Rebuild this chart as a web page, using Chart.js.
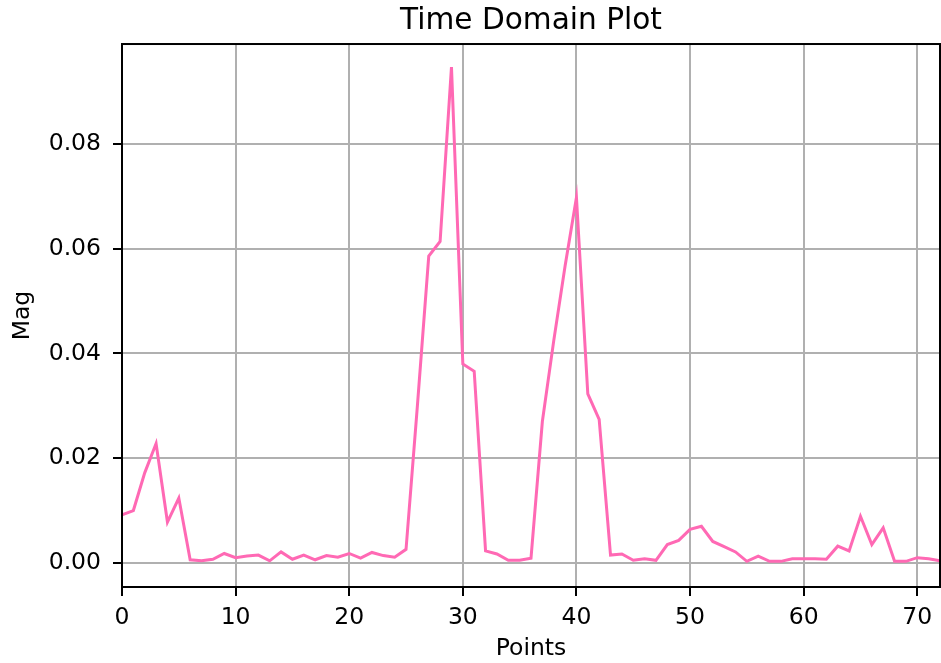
<!DOCTYPE html>
<html>
<head>
<meta charset="utf-8">
<title>Time Domain Plot</title>
<script src="https://cdn.jsdelivr.net/npm/chart.js@4"></script>
<style>
  body { margin: 0; background: #fff; }
  canvas { display: block; }
</style>
</head>
<body>
<canvas id="plot" width="941" height="663"></canvas>
<script>
const points = [
  0, 1, 2, 3, 4, 5, 6, 7, 8, 9, 10, 11, 12, 13, 14, 15, 16, 17, 18, 19,
  20, 21, 22, 23, 24, 25, 26, 27, 28, 29, 30, 31, 32, 33, 34, 35, 36, 37, 38, 39,
  40, 41, 42, 43, 44, 45, 46, 47, 48, 49, 50, 51, 52, 53, 54, 55, 56, 57, 58, 59,
  60, 61, 62, 63, 64, 65, 66, 67, 68, 69, 70, 71, 72,
];
const mag = [
  0.0092, 0.0100, 0.0172, 0.0228, 0.0078, 0.0124, 0.0006, 0.0004, 0.0007, 0.0018,
  0.0010, 0.0013, 0.0015, 0.0004, 0.0021, 0.0007, 0.0015, 0.0006, 0.0014, 0.0011,
  0.0018, 0.0009, 0.0020, 0.0014, 0.0011, 0.0026, 0.0300, 0.0586, 0.0614, 0.0947,
  0.0380, 0.0366, 0.0023, 0.0017, 0.0005, 0.0005, 0.0009, 0.0270, 0.0424, 0.0567,
  0.0698, 0.0323, 0.0274, 0.0015, 0.0017, 0.0005, 0.0008, 0.0005, 0.0035, 0.0043,
  0.0064, 0.0070, 0.0041, 0.0031, 0.0021, 0.0003, 0.0013, 0.0003, 0.0003, 0.0008,
  0.0008, 0.0008, 0.0007, 0.0032, 0.0023, 0.0089, 0.0035, 0.0067, 0.0003, 0.0003,
  0.0010, 0.0008, 0.0004,
];
const xTicks = [0, 10, 20, 30, 40, 50, 60, 70];
const yTicks = [0.0, 0.02, 0.04, 0.06, 0.08];

const FONT = "'DejaVu Sans', sans-serif";
const GRID = "#b0b0b0";

// top and right spines, like the matplotlib frame
const frame = {
  id: "frame",
  afterDatasetsDraw(chart) {
    const a = chart.chartArea;
    const ctx = chart.ctx;
    ctx.save();
    ctx.strokeStyle = "#000";
    ctx.lineWidth = 2;
    ctx.strokeRect(a.left, a.top, a.right - a.left, a.bottom - a.top);
    ctx.restore();
  },
};

const ctx = document.getElementById("plot");
new Chart(ctx, {
  type: "line",
  data: {
    datasets: [
      {
        data: mag.map((v, i) => ({ x: points[i], y: v })),
        borderColor: "#ff69b4",
        borderWidth: 3,
        pointRadius: 0,
        tension: 0,
        fill: false,
      },
    ],
  },
  options: {
    responsive: false,
    animation: false,
    devicePixelRatio: 1,
    layout: { padding: { left: 0, right: 1, top: 0, bottom: 0 } },
    plugins: {
      legend: { display: false },
      tooltip: { enabled: false },
      title: {
        display: true,
        text: "Time Domain Plot",
        fullSize: false,
        color: "#000",
        font: { family: FONT, size: 29.6, weight: "normal" },
        padding: { top: 4, bottom: 4.5 },
      },
    },
    scales: {
      x: {
        type: "linear",
        min: 0,
        max: 72,
        afterBuildTicks: (s) => { s.ticks = xTicks.map((v) => ({ value: v })); },
        afterFit: (s) => { s.height = 76; },
        border: { display: false },
        grid: { color: GRID, lineWidth: 2, tickColor: "#000", tickWidth: 2, tickLength: 9 },
        ticks: {
          color: "#000",
          font: { family: FONT, size: 23.5 },
          padding: 8,
          maxRotation: 0,
          callback: (v) => String(v),
        },
        title: {
          display: true,
          text: "Points",
          color: "#000",
          font: { family: FONT, size: 23.5 },
          padding: { top: 0, bottom: 0 },
        },
      },
      y: {
        type: "linear",
        min: -0.0046,
        max: 0.0991,
        afterBuildTicks: (s) => { s.ticks = yTicks.map((v) => ({ value: v })); },
        afterFit: (s) => { s.width = 122; },
        border: { display: false },
        grid: { color: GRID, lineWidth: 2, tickColor: "#000", tickWidth: 2, tickLength: 9 },
        ticks: {
          color: "#000",
          font: { family: FONT, size: 23.5 },
          padding: 12,
          callback: (v) => v.toFixed(2),
        },
        title: {
          display: true,
          text: "Mag",
          color: "#000",
          font: { family: FONT, size: 23.5 },
          padding: { top: 9, bottom: 0 },
        },
      },
    },
  },
  plugins: [frame],
});
</script>
</body>
</html>
